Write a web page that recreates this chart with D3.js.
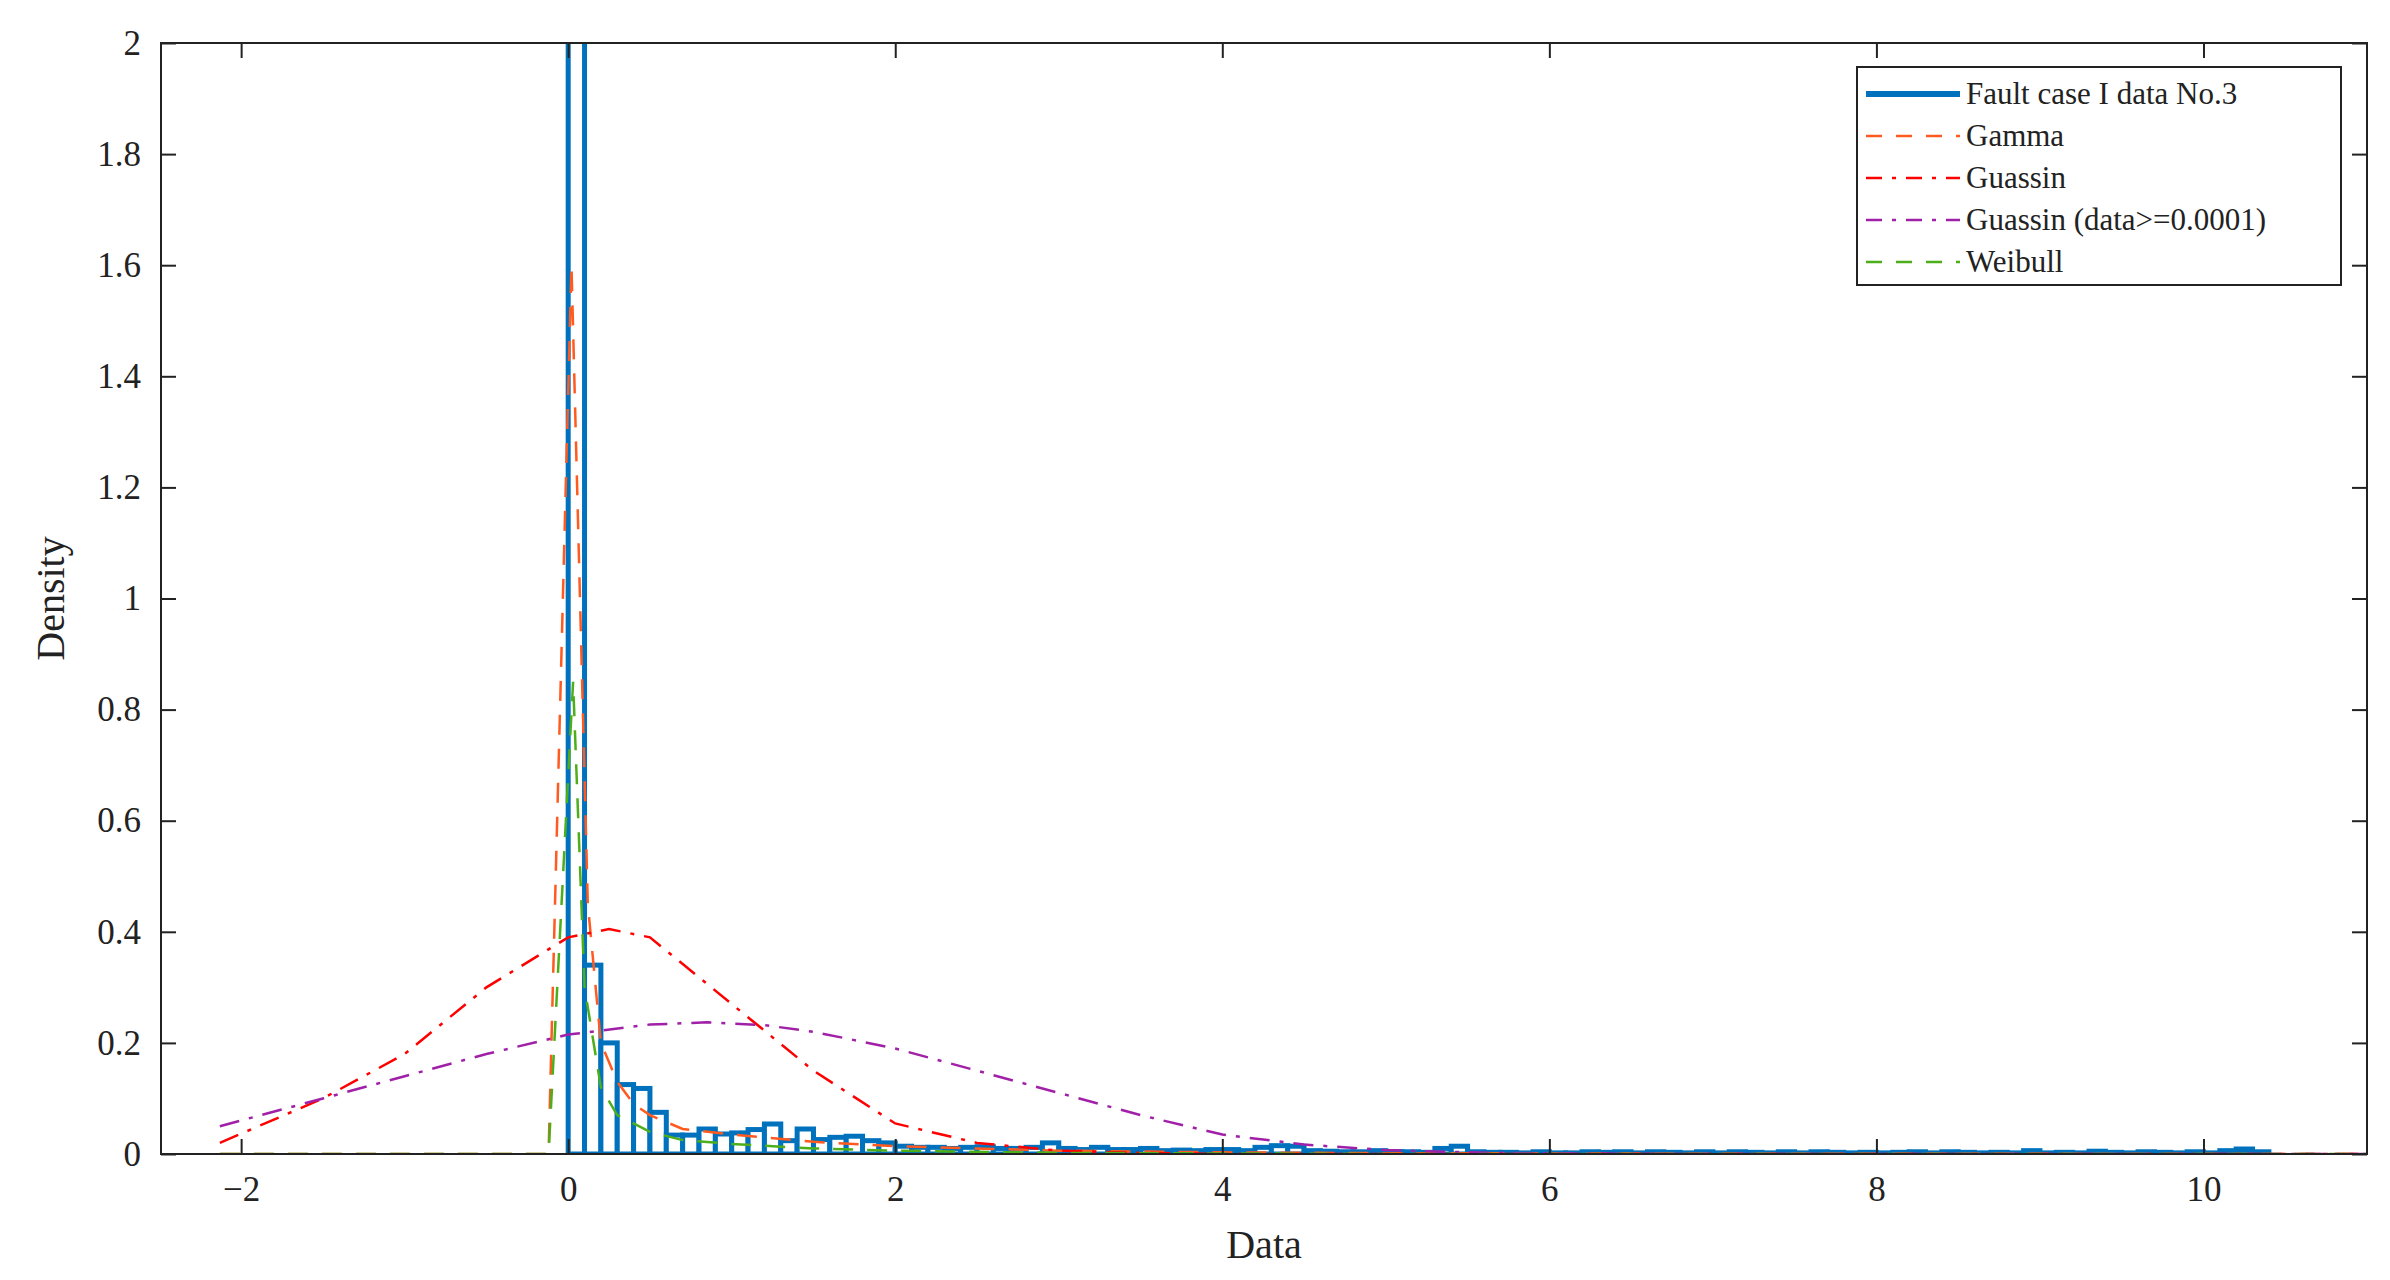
<!DOCTYPE html>
<html><head><meta charset="utf-8">
<script src="https://cdn.jsdelivr.net/npm/d3@7/dist/d3.min.js"></script>
<style>body{margin:0;background:#fff}</style></head>
<body><svg id="c" width="2390" height="1280"></svg>
<script>
// Histogram (bin width 0.1, starting at 0)
const binStart = 0, binWidth = 0.1;
const histValues = [5.0,0.34,0.20,0.125,0.118,0.075,0.034,0.034,0.045,0.036,0.038,0.044,0.054,0.024,0.045,0.026,0.030,0.032,0.024,0.020,
0.014,0.012,0.012,0.010,0.012,0.013,0.010,0.010,0.012,0.020,0.010,0.008,0.012,0.008,0.008,0.010,0.006,0.007,0.006,0.008,
0.008,0.006,0.012,0.015,0.014,0.006,0.005,0.004,0.004,0.006,0.004,0.004,0.003,0.010,0.014,0.004,0.003,0.003,0.002,0.004,
0.002,0.002,0.004,0.003,0.004,0.002,0.004,0.003,0.002,0.004,0.002,0.004,0.003,0.002,0.004,0.002,0.004,0.003,0.002,0.003,
0.002,0.003,0.004,0.002,0.004,0.003,0.002,0.003,0.002,0.006,0.002,0.003,0.002,0.005,0.003,0.002,0.004,0.003,0.002,0.004,0.002,0.006,0.009,0.004];
const gammaX = [-2.13,-0.12,0.02,0.12,0.2,0.3,0.4,0.5,0.7,1.0,1.5,2,3,4,5,7,11];
const gammaY = [0,0,1.6,0.45,0.2,0.13,0.09,0.07,0.045,0.035,0.022,0.014,0.006,0.003,0.0015,0.0005,0];
const gaussX = [-2.13,-1.5,-1,-0.5,0,0.25,0.5,1,1.5,2,2.5,3,3.5,4,11];
const gaussY = [0.02,0.1,0.18,0.3,0.39,0.405,0.39,0.27,0.15,0.055,0.02,0.006,0.002,0,0];
const gauss2X = [-2.13,-1.5,-1,-0.5,0,0.5,0.85,1.2,1.5,2,2.5,3,3.5,4,4.5,5,5.5,6,7,11];
const gauss2Y = [0.05,0.1,0.14,0.18,0.215,0.233,0.237,0.232,0.22,0.19,0.15,0.11,0.07,0.035,0.017,0.007,0.003,0.001,0,0];
const weibX = [-2.13,-0.12,0.03,0.1,0.2,0.3,0.5,0.7,1,1.5,2,3,5,11];
const weibY = [0,0,0.85,0.3,0.12,0.07,0.04,0.025,0.018,0.01,0.006,0.002,0,0];
const xTicks = [-2,0,2,4,6,8,10];
const yTicks = [0,0.2,0.4,0.6,0.8,1,1.2,1.4,1.6,1.8,2];
const legendLabels = ["Fault case I data No.3","Gamma","Guassin","Guassin (data>=0.0001)","Weibull"];

const L=161,R=2367,T=43,B=1154;
const svg=d3.select("#c");
const x=d3.scaleLinear().domain([-2.49,11]).range([L,R]);
const y=d3.scaleLinear().domain([0,2]).range([B,T]);
const font="Liberation Serif, Times New Roman, serif";

svg.append("clipPath").attr("id","clip").append("rect").attr("x",L).attr("y",T).attr("width",R-L).attr("height",B-T);
const g=svg.append("g").attr("clip-path","url(#clip)");

// histogram
g.selectAll("rect.h").data(histValues).join("rect")
 .attr("x",(d,i)=>x(binStart+i*binWidth)).attr("width",x(binWidth)-x(0))
 .attr("y",d=>y(d)).attr("height",d=>y(0)-y(d))
 .attr("fill","#fff").attr("stroke","#0072BD").attr("stroke-width",5);

const line=d3.line().x(d=>x(d[0])).y(d=>y(d[1]));
const curves=[
 {xs:gammaX,ys:gammaY,c:"#FF5A1F",dash:"20,14"},
 {xs:gaussX,ys:gaussY,c:"#FF0000",dash:"20,10,4,10"},
 {xs:gauss2X,ys:gauss2Y,c:"#A020A8",dash:"20,10,4,10"},
 {xs:weibX,ys:weibY,c:"#4CAF1A",dash:"20,14"}];
curves.forEach(cv=>{
 g.append("path").attr("d",line(cv.xs.map((v,i)=>[v,cv.ys[i]]))).attr("fill","none")
  .attr("stroke",cv.c).attr("stroke-width",2.5).attr("stroke-dasharray",cv.dash);
});

// axes box
svg.append("rect").attr("x",L).attr("y",T).attr("width",R-L).attr("height",B-T).attr("fill","none").attr("stroke","#222").attr("stroke-width",2);
const fmt=d=>String(d).replace("-","\u2212");
const ax=svg.append("g").attr("transform",`translate(0,${B})`).call(d3.axisBottom(x).tickValues(xTicks).tickSize(-15).tickPadding(22).tickFormat(fmt));
const axt=svg.append("g").attr("transform",`translate(0,${T})`).call(d3.axisTop(x).tickValues(xTicks).tickSize(-15).tickFormat(""));
const ay=svg.append("g").attr("transform",`translate(${L},0)`).call(d3.axisLeft(y).tickValues(yTicks).tickSize(-15).tickPadding(20).tickFormat(d=>String(d)));
const ayr=svg.append("g").attr("transform",`translate(${R},0)`).call(d3.axisRight(y).tickValues(yTicks).tickSize(-15).tickFormat(""));
[ax,axt,ay,ayr].forEach(a=>{a.select(".domain").remove();a.selectAll("line").attr("stroke","#222").attr("stroke-width",2);
 a.selectAll("text").attr("font-family",font).attr("font-size",35).attr("fill","#222");});

svg.append("text").attr("x",(L+R)/2).attr("y",1258).attr("text-anchor","middle").attr("font-family",font).attr("font-size",40).attr("fill","#222").text("Data");
svg.append("text").attr("transform",`translate(64,${(T+B)/2}) rotate(-90)`).attr("text-anchor","middle").attr("font-family",font).attr("font-size",40).attr("fill","#222").text("Density");

// legend
const lg=svg.append("g");
lg.append("rect").attr("x",1857).attr("y",67).attr("width",484).attr("height",218).attr("fill","#fff").attr("stroke","#222").attr("stroke-width",2);
const lstyles=[{c:"#0072BD",w:6,dash:null},...curves.map(c=>({c:c.c,w:2.5,dash:c.dash.replace(/20/g,"16")}))];
legendLabels.forEach((t,i)=>{
 const yy=94+i*42;
 lg.append("line").attr("x1",1866).attr("x2",1960).attr("y1",yy).attr("y2",yy).attr("stroke",lstyles[i].c).attr("stroke-width",lstyles[i].w).attr("stroke-dasharray",lstyles[i].dash);
 lg.append("text").attr("x",1966).attr("y",yy+10).attr("font-family",font).attr("font-size",31).attr("fill","#222").text(t);
});
</script></body></html>
